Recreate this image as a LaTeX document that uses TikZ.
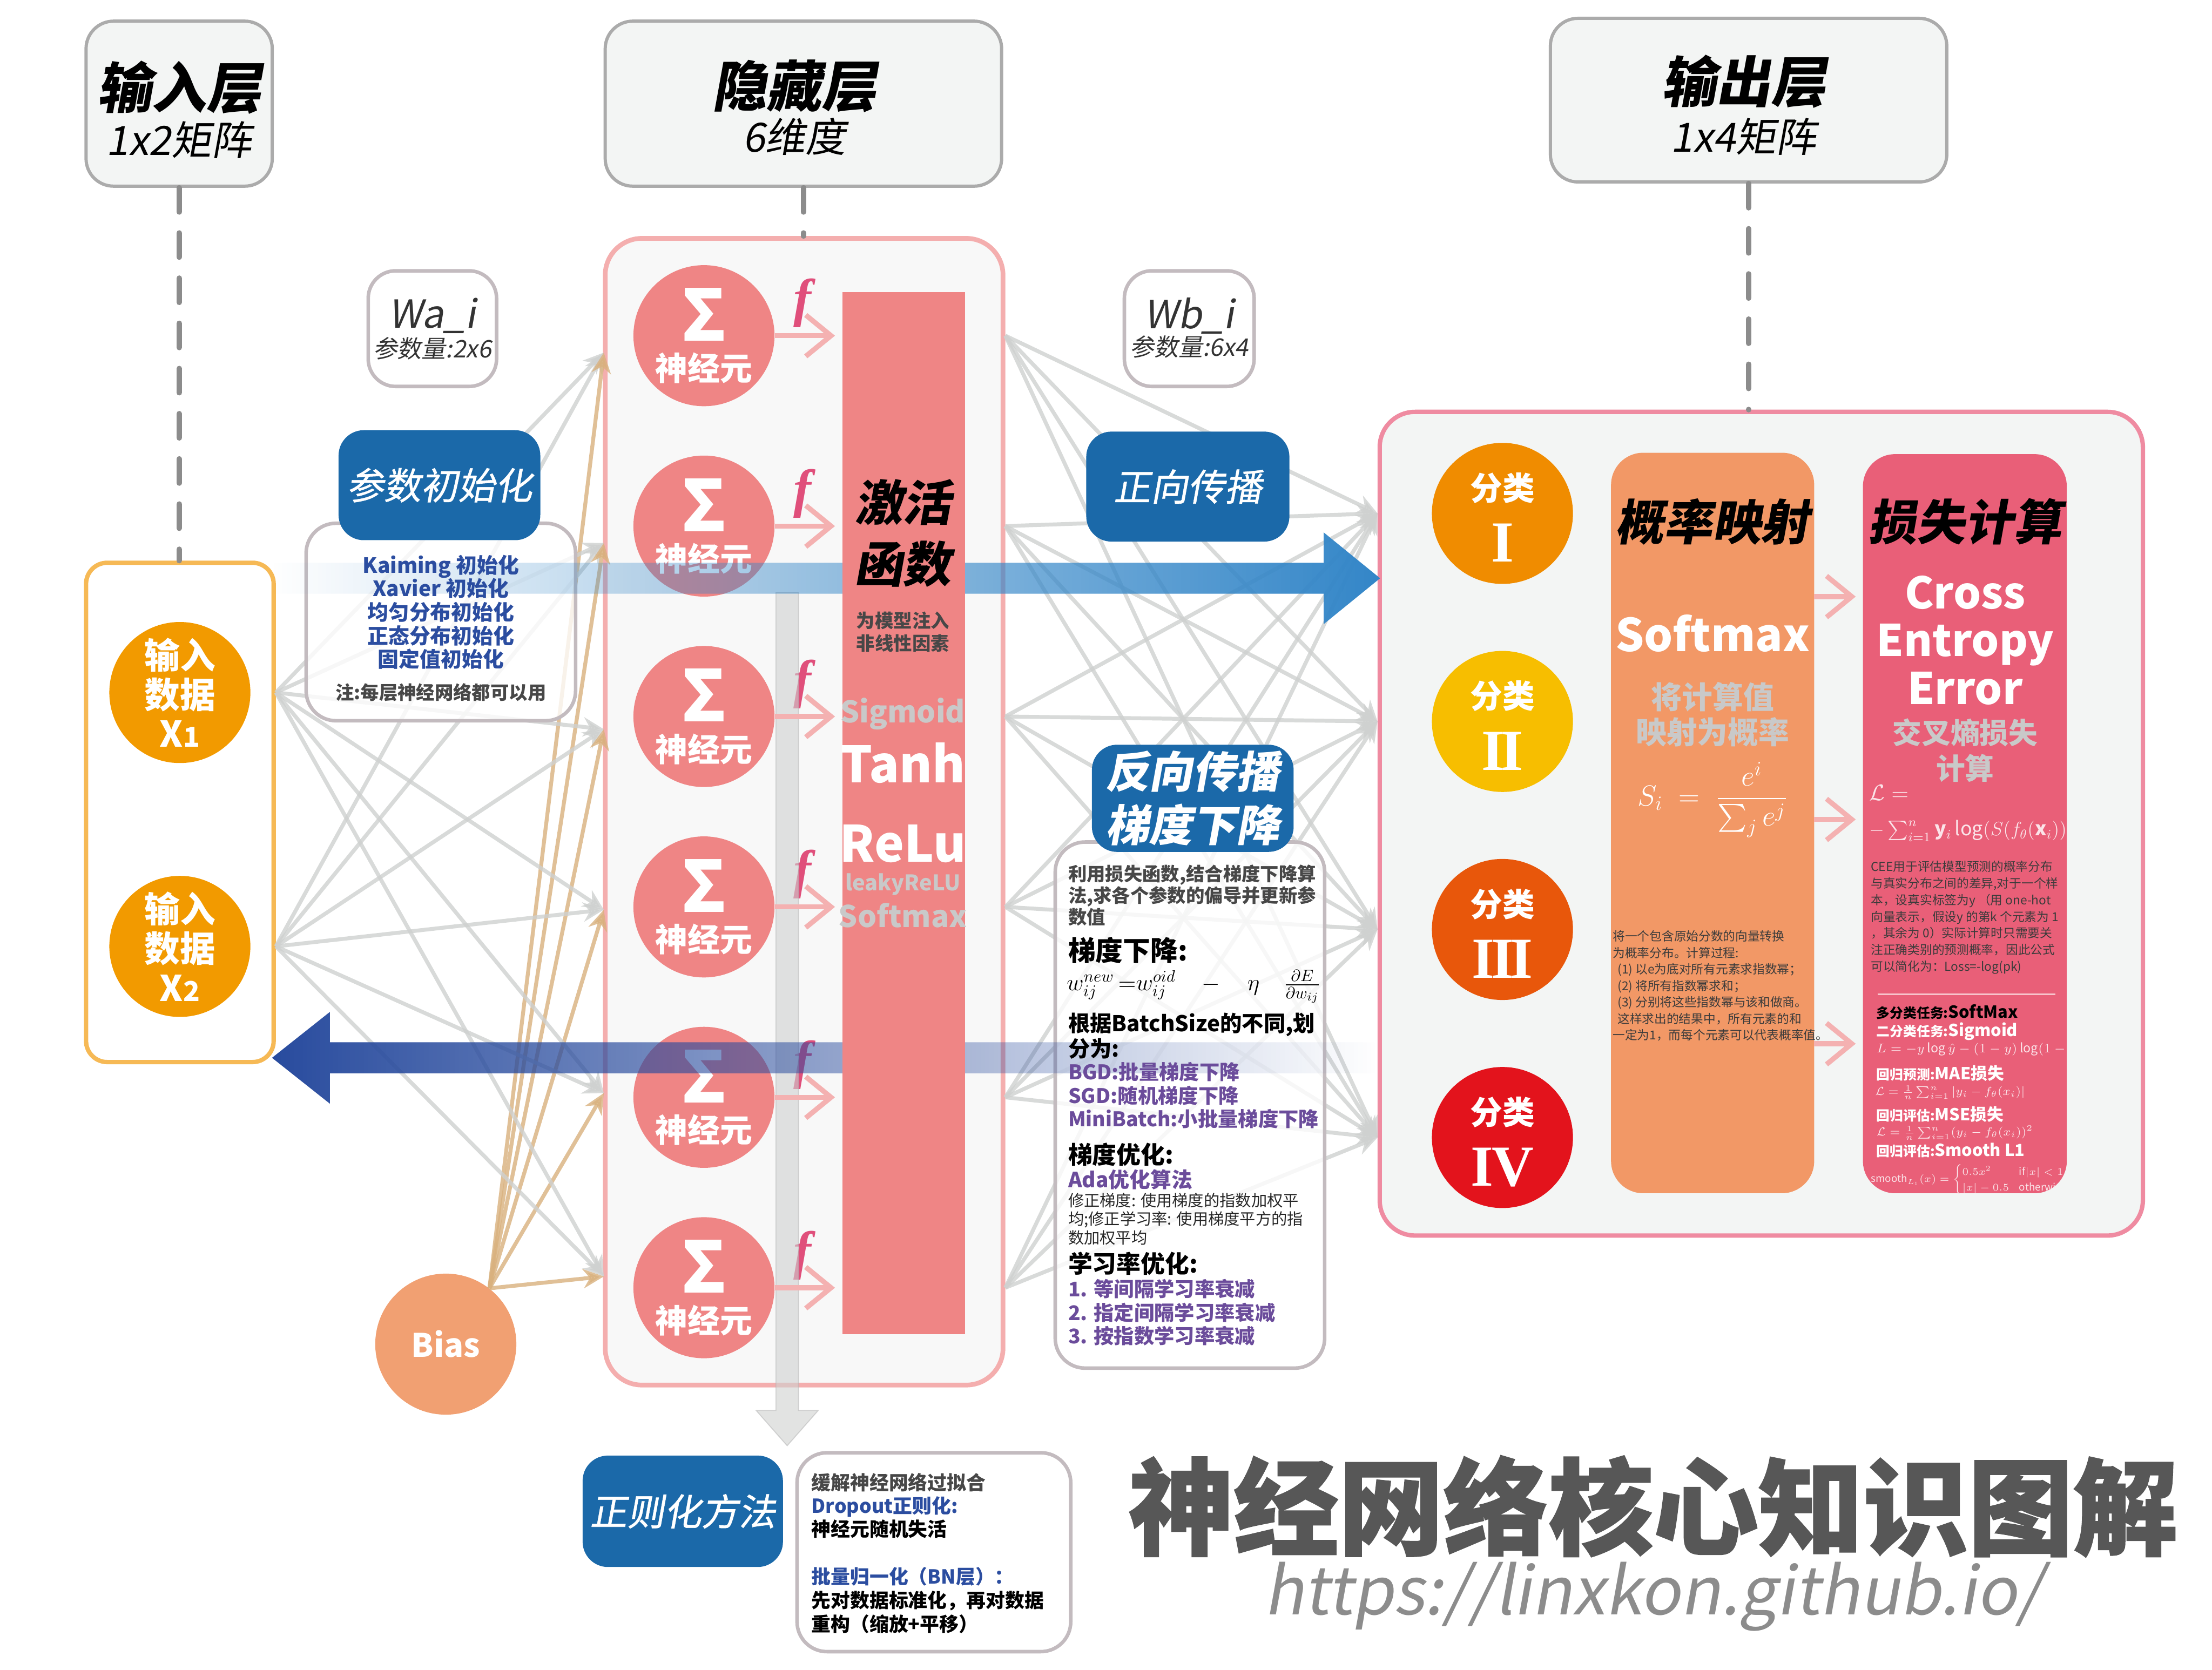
\documentclass[tikz,border=0pt]{standalone}
\usepackage{fix-cm}
\usepackage{amsmath}
\usepackage{fontspec}
\setmainfont{Noto Sans CJK SC}
\newfontfamily\cjkslant{Noto Sans CJK SC}[FakeSlant=0.18]
\newfontfamily\cjkmed{Noto Sans CJK SC}[FakeSlant=0.18,FakeBold=0.8]
\newfontfamily\titlefont{Noto Sans CJK SC}[FakeBold=1.2]
\newfontfamily\serifit{Liberation Serif}
\usetikzlibrary{arrows.meta,fadings}
\definecolor{hdrbg}{HTML}{F3F5F4}
\definecolor{hdrline}{HTML}{ABABAB}
\definecolor{dashc}{HTML}{8C8C8C}
\definecolor{inorange}{HTML}{F29A00}
\definecolor{inline}{HTML}{F6B955}
\definecolor{biasc}{HTML}{F1A072}
\definecolor{neur}{HTML}{EF8585}
\definecolor{hidline}{HTML}{F4AEAE}
\definecolor{hidbg}{HTML}{F8F8F8}
\definecolor{fpink}{HTML}{E04F7B}
\definecolor{chev}{HTML}{F4B1B1}
\definecolor{boxblue}{HTML}{1B69A9}
\definecolor{txtline}{HTML}{C3BBBF}
\definecolor{initblue}{HTML}{2B4DA0}
\definecolor{gtext}{HTML}{474747}
\definecolor{wtext}{HTML}{333333}
\definecolor{linkc}{HTML}{CFD1D0}
\definecolor{biaslink}{HTML}{D9B17E}
\definecolor{fwdblue}{HTML}{3386C8}
\definecolor{bwdblue}{HTML}{284B9E}
\definecolor{outline}{HTML}{EF8BA1}
\definecolor{outbg}{HTML}{F3F5F4}
\definecolor{cls1}{HTML}{F08C00}
\definecolor{cls2}{HTML}{F7BE00}
\definecolor{cls3}{HTML}{E8570B}
\definecolor{cls4}{HTML}{E3131C}
\definecolor{probc}{HTML}{F29866}
\definecolor{lossc}{HTML}{E95F78}
\definecolor{lgray}{HTML}{C9C9C9}
\definecolor{purp}{HTML}{6B4C9B}
\definecolor{ptext}{HTML}{3B3B3B}
\definecolor{lossline}{HTML}{F7C4CC}
\definecolor{mathw}{HTML}{FBE4E9}
\definecolor{titleg}{HTML}{575757}
\definecolor{urlg}{HTML}{8C8C8C}
\tikzfading[name=fwdfade,left color=transparent!100,middle color=transparent!60,right color=transparent!0]
\tikzfading[name=bwdfade,left color=transparent!0,middle color=transparent!50,right color=transparent!100]
\newcommand\fs[2]{\fontsize{#1}{#2}\selectfont}
\def\pxu{0.3072mm}

\begin{document}
\begin{tikzpicture}[
 x=0.3072mm,y=-0.3072mm,
 sz/.style 2 args={minimum width=#1*\pxu,minimum height=#2*\pxu,inner sep=0pt},
 hdrbox/.style={draw=hdrline,fill=hdrbg,line width=2pt,rounded corners=6mm},
 hdrbig/.style={font=\cjkslant\bfseries\fs{34}{40},inner sep=0pt},
 hdrsub/.style={font=\cjkslant\fs{25}{30},inner sep=0pt},
 dashln/.style={draw=dashc,line width=3.4pt,line cap=round,dash pattern=on 15pt off 13pt},
 blubox/.style={fill=boxblue,rounded corners=5.5mm,text=white,font=\cjkmed\fs{23}{28}},
 txtbox/.style={draw=txtline,fill=white,fill opacity=.8,line width=2.2pt,rounded corners=6.5mm},
 disc/.style={circle,inner sep=0pt,minimum size=100*\pxu,text=white,align=center},
 link/.style={draw=linkc,line width=.85mm,opacity=.8,-{Stealth[length=4.5mm,width=4.2mm]}},
 blink/.style={link,draw=biaslink},
 farrow/.style={draw=chev,line width=1.1mm,shorten >=1.5mm,-{Straight Barb[length=5.5mm,width=9mm]}},
 para/.style={anchor=west,align=left,inner sep=0pt},
 lbl/.style={inner sep=0pt,align=center},
 roman/.style={lbl,text=white,font=\serifit\bfseries\fs{36}{38}}
]
\fill[white] (0,0) rectangle (1568,1184);
\useasboundingbox (0,0) rectangle (1568,1184);

% Layer headers.
\node[hdrbox,sz={132}{117}] (inhdr) at (127,73.5) {};
\node[hdrbig] (inhdrt) at (127,62) {输入层};
\node[hdrsub] (inhdrs) at (127,99) {1x2矩阵};
\node[hdrbox,sz={281}{117}] (hidhdr) at (569.5,73.5) {};
\node[hdrbig] (hidhdrt) at (563,61) {隐藏层};
\node[hdrsub] (hidhdrs) at (563,97) {6维度};
\node[hdrbox,sz={281}{116}] (outhdr) at (1239.5,71) {};
\node[hdrbig] (outhdrt) at (1236,58) {输出层};
\node[hdrsub] (outhdrs) at (1236,97) {1x4矩阵};

% Layer containers.
\node[draw=inline,fill=white,line width=2.7pt,rounded corners=4.6mm,sz={133}{354}] (incont) at (127.5,576) {};
\node[draw=hidline,fill=hidbg,line width=2.9pt,rounded corners=8mm,sz={282}{813}] (hidcont) at (570,575.5) {};
\node[draw=outline,fill=outbg,line width=2.7pt,rounded corners=7.7mm,sz={541}{584}] (outcont) at (1248.5,584) {};
\draw[dashln] (inhdr.south) -- (inhdr.south |- incont.north);
\draw[dashln] (hidhdr.south) -- (hidhdr.south |- hidcont.north);
\draw[dashln] (outhdr.south) -- (outhdr.south |- outcont.north);

% Inputs, bias, neurons, classes.
\node[disc,fill=inorange,font=\bfseries\fs{22}{24.4}] (x1) at (127.5,491) {输入\\数据\\X{\fs{17}{17}1}};
\node[disc,fill=inorange,font=\bfseries\fs{22}{24.4}] (x2) at (127.5,671) {输入\\数据\\X{\fs{17}{17}2}};
\node[disc,fill=biasc,font=\bfseries\fs{20}{24}] (bias) at (316,953) {Bias};
\foreach \i/\y in {1/238,2/373,3/508,4/643,5/778,6/913} {
  \node[disc,fill=neur] (n\i) at (499,\y) {};
  \node[lbl,text=white,font=\bfseries\fs{44}{46}] (ns\i) at (499,\y-15) {Σ};
  \node[lbl,text=white,font=\bfseries\fs{20}{22}] (nt\i) at (499,\y+23) {神经元};
  \node[lbl,text=fpink,font=\serifit\bfseries\itshape\fs{33}{36}] (nf\i) at (569,\y-23) {f};
}
\foreach \i/\y/\c/\rn in {1/364/cls1/I,2/511.5/cls2/I\kern-.06em I,3/659/cls3/I\kern-.06em I\kern-.06em I,4/806.5/cls4/I\kern-.03em V} {
  \node[disc,fill=\c] (c\i) at (1065,\y) {};
  \node[lbl,text=white,font=\bfseries\fs{20}{22}] (ct\i) at (1065,\y-18) {分类};
  \node[roman] (cn\i) at (1065,\y+21) {\rn};
}

% Weights between layers.
\foreach \i/\y in {1/250,2/385,3/517,4/645,5/775,6/905}
  \coordinate (hin\i) at (428,\y);
\foreach \i in {1,...,6} {
  \draw[link] (x1 -| incont.east) -- (hin\i);
  \draw[link] (x2 -| incont.east) -- (hin\i);
  \draw[blink] (bias.52) -- (hin\i);
  \foreach \j in {1,...,4}
    \draw[link] (n\i -| hidcont.east) -- (c\j -| outcont.west);
}

% Side cards.
\node[txtbox,sz={191}{140}] (initbox) at (312.5,441) {};
\node[txtbox,sz={191}{373}] (gradbox) at (843.5,783.5) {};
\node[txtbox,sz={194}{141}] (regbox) at (662,1100.5) {};
\node[txtbox,fill opacity=1,sz={91}{82},rounded corners=6mm] (wa) at (306.5,233) {};
\node[txtbox,fill opacity=1,sz={92}{82},rounded corners=6mm] (wb) at (843,233) {};
\node[lbl,text=wtext,font=\cjkslant\fs{24}{26}] (wat) at (306.5,224) {Wa\_i};
\node[lbl,text=wtext,font=\cjkslant\fs{15}{17}] (was) at (306.5,247) {参数量:2x6};
\node[lbl,text=wtext,font=\cjkslant\fs{24}{26}] (wbt) at (843,224) {Wb\_i};
\node[lbl,text=wtext,font=\cjkslant\fs{15}{17}] (wbs) at (843,246) {参数量:6x4};

% Regularisation arrow.
\filldraw[fill=linkc,fill opacity=.6,draw=gray!60,draw opacity=.5,line width=.6pt]
  (550,420) -- (566,420) -- (566,1000) -- (580,1000) -- (558,1025) -- (536,1000) -- (550,1000) -- cycle;

% Forward and backward bands.
\fill[fwdblue,path fading=fwdfade] (194,399) -- (939,399) -- (939,377.5) -- (979,410) -- (939,442.5) -- (939,421) -- (194,421) -- cycle;
\fill[bwdblue,path fading=bwdfade] (975,739) -- (234,739) -- (234,717.5) -- (193,750) -- (234,782.5) -- (234,761) -- (975,761) -- cycle;

% Activation bar.
\node[fill=neur,sz={87}{739}] (actbar) at (640.5,576.5) {};
\foreach \i in {1,...,6}
  \draw[farrow] (n\i.east) -- (n\i -| actbar.west);
\node[lbl,font=\cjkslant\bfseries\fs{30}{36}] (act1) at (640,356) {激活};
\node[lbl,font=\cjkslant\bfseries\fs{30}{36}] (act2) at (640,400) {函数};
\node[lbl,text=gtext,font=\bfseries\fs{11.5}{14}] (act3) at (640,448) {为模型注入\\非线性因素};
\node[lbl,text=lgray,font=\bfseries\fs{18.5}{22}] (act4) at (640,506) {Sigmoid};
\node[lbl,text=white,font=\bfseries\fs{31}{35}] (act5) at (640,541) {Tanh};
\node[lbl,text=white,font=\bfseries\fs{31}{35}] (act6) at (640,598) {ReLu};
\node[lbl,text=lgray,font=\bfseries\fs{13.3}{15}] (act7) at (640,627) {leakyReLU};
\node[lbl,text=lgray,font=\bfseries\fs{18.5}{22}] (act8) at (640,649) {Softmax};

% Output columns.
\node[fill=probc,rounded corners=7mm,sz={144}{525}] (probcol) at (1214,583.5) {};
\node[fill=lossc,rounded corners=7mm,sz={144.5}{524}] (losscol) at (1392.8,584) {};
\foreach \i/\y in {1/423,2/581,3/740} {
  \coordinate (pm\i) at (1286,\y);
  \draw[farrow] (pm\i) -- (pm\i -| losscol.west);
}
\node[lbl,font=\cjkslant\bfseries\fs{30}{36}] (probt) at (1214,370) {概率映射};
\node[lbl,text=white,font=\bfseries\fs{28}{32}] (probs) at (1214,449) {Softmax};
\node[lbl,text=lgray,font=\bfseries\fs{19}{21.8}] (probg) at (1214,506.5) {将计算值\\映射为概率};
\node[lbl,text=white,font=\fs{18}{20}] (probf) at (1214,567) {$S_i\;=\;\dfrac{e^{i}}{\sum_j e^{j}}$};
\node[para,text=ptext,font=\fs{7.6}{10.2}] (probp) at (1143,699) {将一个包含原始分数的向量转换\\为概率分布。计算过程:\\\hspace{3pt}(1) 以e为底对所有元素求指数幂；\\\hspace{3pt}(2) 将所有指数幂求和；\\\hspace{3pt}(3) 分别将这些指数幂与该和做商。\\\hspace{3pt}这样求出的结果中，所有元素的和\\一定为1，而每个元素可以代表概率值。};

\node[lbl,font=\cjkslant\bfseries\fs{30}{36}] (losst) at (1393,370) {损失计算};
\node[lbl,text=white,font=\bfseries\fs{27}{29.6}] (lossce) at (1393,454) {Cross\\Entropy\\Error};
\node[lbl,text=lgray,font=\bfseries\fs{18}{22.3}] (lossg) at (1393,532) {交叉熵损失\\计算};
\begin{scope}
\clip[rounded corners=7mm] (losscol.north west) rectangle (losscol.south east);
\node[para,text=mathw,font=\fs{14}{16}] (cel1) at (1325,562) {$\mathcal{L}=$};
\node[para,text=mathw,font=\fs{12}{14}] (cel2) at (1325,589) {$-\sum_{i=1}^{n}\mathbf{y}_i\log(S(f_\theta(\mathbf{x}_i)))$};
\node[para,text=ptext,font=\fs{7.6}{10.3}] (cee) at (1326,650.5) {CEE用于评估模型预测的概率分布\\与真实分布之间的差异,对于一个样\\本，设真实标签为y （用 one-hot\\向量表示，假设y 的第k 个元素为 1\\，其余为 0）实际计算时只需要关\\注正确类别的预测概率，因此公式\\可以简化为：Loss=-log(pk)};
\draw[draw=lossline,line width=1.2pt] (1331,705) -- (1457,705);
\node[para] (lt1) at (1330,717.5) {\bfseries\fs{8.3}{10}多分类任务:\fs{10.3}{12}SoftMax};
\node[para,text=white] (lt2) at (1330,731.5) {\bfseries\fs{8.3}{10}二分类任务:\fs{10.3}{12}Sigmoid};
\node[para,text=mathw,font=\fs{7.8}{9}] (lf2) at (1330,744) {$L=-y\log\hat{y}-(1-y)\log(1-\hat{y})$};
\node[para,text=white] (lt3) at (1330,761) {\bfseries\fs{8.3}{10}回归预测:\fs{10.3}{12}MAE损失};
\node[para,text=mathw,font=\fs{7.3}{9}] (lf3) at (1329,774.5) {$\mathcal{L}=\frac{1}{n}\sum_{i=1}^{n}|y_i-f_\theta(x_i)|$};
\node[para,text=white] (lt4) at (1330,790) {\bfseries\fs{8.3}{10}回归评估:\fs{10.3}{12}MSE损失};
\node[para,text=mathw,font=\fs{7.3}{9}] (lf4) at (1330,803) {$\mathcal{L}=\frac{1}{n}\sum_{i=1}^{n}(y_i-f_\theta(x_i))^2$};
\node[para,text=white] (lt5) at (1330,815.5) {\bfseries\fs{8.3}{10}回归评估:\fs{10.3}{12}Smooth L1};
\node[anchor=west,inner sep=0pt,text=mathw,font=\fs{6.3}{8}] (lf5) at (1326,836.5) {$\mathrm{smooth}_{L_1}(x)=\begin{cases}0.5x^2 & \mathrm{if}|x|<1\\ |x|-0.5 & \mathrm{otherwise}\end{cases}$};
\end{scope}

% Blue labels.
\node[blubox,sz={143}{78}] (initlbl) at (311.5,344) {参数初始化};
\node[blubox,sz={144}{78}] (fwdlbl) at (842,345) {正向传播};
\node[blubox,sz={143}{76},align=center,font=\cjkslant\bfseries\fs{27}{33}] (bwdlbl) at (845.5,566) {反向传播\\梯度下降};
\node[blubox,sz={142}{79}] (reglbl) at (484,1071.5) {正则化方法};

% Card texts.
\node[lbl,text=initblue,font=\bfseries\fs{13}{14.6}] (initt) at (312.5,434) {Kaiming 初始化\\Xavier 初始化\\均匀分布初始化\\正态分布初始化\\固定值初始化};
\node[lbl,text=gtext,font=\bfseries\fs{11.5}{13}] (initn) at (312.5,491) {注:每层神经网络都可以用};

\node[para,text=gtext,font=\bfseries\fs{11.5}{13.4}] (g1) at (757,634.7) {利用损失函数,结合梯度下降算\\法,求各个参数的偏导并更新参\\数值};
\node[para,font=\bfseries\fs{17}{20}] (g2) at (757,673.8) {梯度下降:};
\node[para,font=\fs{14.5}{17}] (g3) at (756,699.5) {$w_{ij}^{new}\,{=}w_{ij}^{oid}\hspace{16pt}{-}\hspace{17pt}\eta\hspace{15pt}\frac{\partial E}{\partial w_{ij}}$};
\node[para,font=\bfseries\fs{13.5}{14.1}] (g4) at (757,734.5) {根据BatchSize的不同,划\\分为:};
\node[para,text=purp,font=\bfseries\fs{12.5}{14.6}] (g5) at (757,776.7) {BGD:批量梯度下降\\SGD:随机梯度下降\\MiniBatch:小批量梯度下降};
\node[para,font=\bfseries\fs{15}{18}] (g6) at (757,818.4) {梯度优化:};
\node[para,text=purp,font=\bfseries\fs{13}{15}] (g7) at (757,836.3) {Ada优化算法};
\node[para,text=black!85,font=\fs{9.8}{11.5}] (g8) at (757,864.2) {修正梯度: 使用梯度的指数加权平\\均;修正学习率: 使用梯度平方的指\\数加权平均};
\node[para,font=\bfseries\fs{15}{18}] (g9) at (757,896) {学习率优化:};
\node[para,text=purp,font=\bfseries\fs{12.5}{14.6}] (g10) at (757,930.5) {1. 等间隔学习率衰减\\2. 指定间隔学习率衰减\\3. 按指数学习率衰减};

\node[para,font=\bfseries\fs{12}{14.4}] (reg1) at (575,1067.5) {{\color{gtext}缓解神经网络过拟合}\\{\color{initblue}Dropout正则化:}\\神经元随机失活};
\node[para,font=\bfseries\fs{12}{14.8}] (reg2) at (575,1134.6) {{\color{initblue}批量归一化（BN层）：}\\先对数据标准化，再对数据\\重构（缩放+平移）};

% Title.
\node[lbl,text=titleg,font=\titlefont\bfseries\fs{65}{70}] (title) at (1172,1068) {神经网络核心知识图解};
\node[lbl,text=urlg,font=\cjkslant\fs{41}{46}] (url) at (1172,1132) {https://linxkon.github.io/};
\end{tikzpicture}
\end{document}
